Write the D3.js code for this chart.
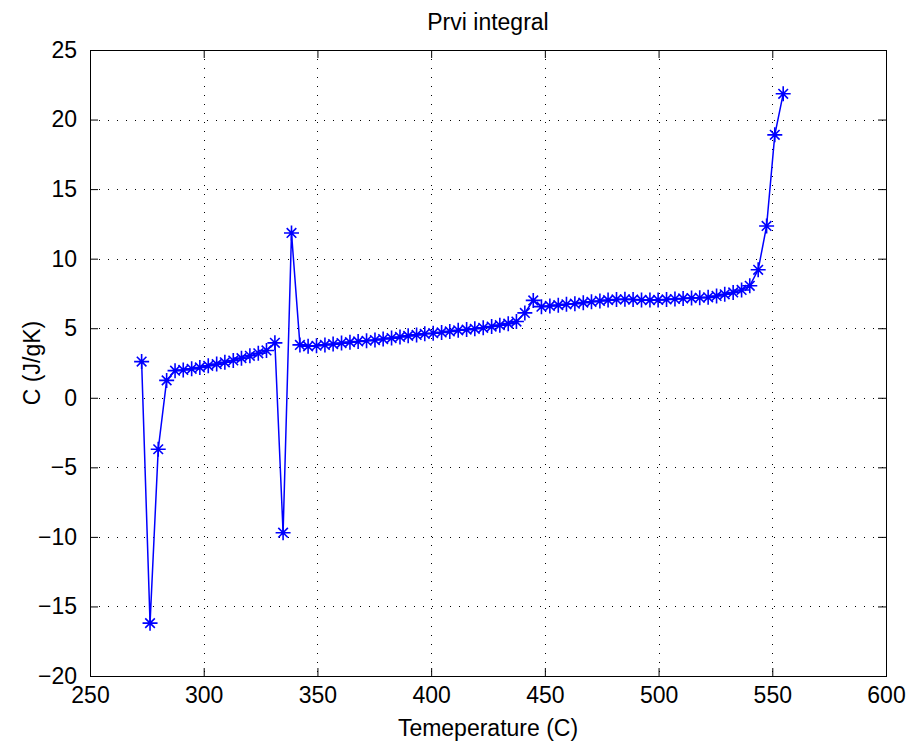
<!DOCTYPE html>
<html>
<head>
<meta charset="utf-8">
<script src="https://cdn.jsdelivr.net/npm/d3@7"></script>
<style>
  html, body { margin: 0; padding: 0; background: #ffffff; }
  svg { display: block; }
  text { font-family: "Liberation Sans", Arial, sans-serif; fill: #000; }
</style>
</head>
<body>
<svg id="chart" width="909" height="747"></svg>
<script>
// ---- Data ----
const temperature = [
  272.7, 276.4, 280.0, 283.7, 287.4, 291.0, 294.7, 298.3, 302.0, 305.7,
  309.3, 313.0, 316.6, 320.3, 324.0, 327.6, 331.3, 334.9, 338.6, 342.3,
  345.9, 349.6, 353.3, 356.9, 360.6, 364.3, 367.9, 371.6, 375.3, 378.9,
  382.6, 386.3, 389.9, 393.6, 397.2, 400.9, 404.6, 408.2, 411.9, 415.6,
  419.2, 422.9, 426.6, 430.2, 433.9, 437.5, 441.2, 444.9, 448.5, 452.2,
  455.9, 459.5, 463.2, 466.9, 470.5, 474.2, 477.8, 481.5, 485.2, 488.8,
  492.5, 496.2, 499.8, 503.5, 507.2, 510.8, 514.5, 518.1, 521.8, 525.5,
  529.1, 532.8, 536.5, 540.1, 543.8, 547.5, 551.1, 554.8
];
const heatCapacity = [
  2.6, -16.2, -3.7, 1.25, 1.95, 2.0, 2.08, 2.18, 2.3, 2.42,
  2.55, 2.68, 2.85, 3.02, 3.2, 3.4, 3.95, -9.7, 11.85, 3.8,
  3.7, 3.74, 3.8, 3.86, 3.93, 4.0, 4.05, 4.1, 4.15, 4.22,
  4.29, 4.37, 4.45, 4.52, 4.6, 4.64, 4.7, 4.77, 4.85, 4.9,
  4.96, 5.03, 5.12, 5.22, 5.33, 5.48, 6.1, 7.0, 6.55, 6.6,
  6.66, 6.72, 6.76, 6.84, 6.9, 6.96, 7.02, 7.07, 7.08, 7.06,
  7.03, 7.02, 7.03, 7.07, 7.1, 7.14, 7.17, 7.19, 7.22, 7.32,
  7.44, 7.57, 7.75, 8.05, 9.2, 12.35, 18.9, 21.85
];
const xTicks = [250, 300, 350, 400, 450, 500, 550, 600];
const yTicks = [-20, -15, -10, -5, 0, 5, 10, 15, 20, 25];
const titleText = "Prvi integral";
const xLabelText = "Temeperature (C)";
const yLabelText = "C (J/gK)";

// ---- Layout ----
const svg = d3.select("#chart");
const pL = 90, pR = 886, pT = 50, pB = 676;
const x = d3.scaleLinear().domain([250, 600]).range([pL, pR]);
const y = d3.scaleLinear().domain([-20, 25]).range([pB, pT]);
const fontSize = 23;
const tickLen = 8;

// grid
const grid = svg.append("g").attr("stroke", "#000").attr("stroke-width", 1)
  .attr("stroke-dasharray", "1,8").attr("fill", "none");
xTicks.slice(1, -1).forEach(t => {
  grid.append("line").attr("x1", Math.round(x(t)) + 0.5).attr("x2", Math.round(x(t)) + 0.5)
    .attr("y1", pT).attr("y2", pB);
});
yTicks.slice(1, -1).forEach(t => {
  grid.append("line").attr("y1", Math.round(y(t)) + 0.5).attr("y2", Math.round(y(t)) + 0.5)
    .attr("x1", pL).attr("x2", pR);
});

// axes
function styleAxis(g, showLabels) {
  g.select(".domain").remove();
  g.selectAll(".tick line").attr("stroke", "#000").attr("stroke-width", 1);
  g.selectAll(".tick text").attr("font-size", fontSize)
    .attr("font-family", "'Liberation Sans', Arial, sans-serif").attr("fill", "#000");
  if (!showLabels) g.selectAll(".tick text").remove();
}
const xAxisB = svg.append("g").attr("transform", `translate(0,${pB})`)
  .call(d3.axisBottom(x).tickValues(xTicks).tickSize(-tickLen).tickPadding(tickLen + 3).tickFormat(d3.format("d")));
styleAxis(xAxisB, true);
const xAxisT = svg.append("g").attr("transform", `translate(0,${pT})`)
  .call(d3.axisTop(x).tickValues(xTicks).tickSize(-tickLen));
styleAxis(xAxisT, false);
const yAxisL = svg.append("g").attr("transform", `translate(${pL},0)`)
  .call(d3.axisLeft(y).tickValues(yTicks).tickSize(-tickLen).tickPadding(tickLen + 5).tickFormat(d3.format("d")));
styleAxis(yAxisL, true);
const yAxisR = svg.append("g").attr("transform", `translate(${pR},0)`)
  .call(d3.axisRight(y).tickValues(yTicks).tickSize(-tickLen));
styleAxis(yAxisR, false);

// box
svg.append("rect").attr("x", pL + 0.5).attr("y", pT + 0.5)
  .attr("width", pR - pL).attr("height", pB - pT)
  .attr("fill", "none").attr("stroke", "#000").attr("stroke-width", 1);

// data line
const pts = temperature.map((t, i) => [t, heatCapacity[i]]);
const line = d3.line().x(d => x(d[0])).y(d => y(d[1]));
svg.append("path").datum(pts).attr("d", line)
  .attr("fill", "none").attr("stroke", "#0000ff").attr("stroke-width", 1.5);

// asterisk markers
const r1 = 7.5, r2 = 4.8;
const starPath = `M${-r1},0H${r1}M0,${-r1}V${r1}M${-r2},${-r2}L${r2},${r2}M${-r2},${r2}L${r2},${-r2}`;
svg.append("g").selectAll("path.m").data(pts).join("path")
  .attr("class", "m")
  .attr("transform", d => `translate(${x(d[0])},${y(d[1])})`)
  .attr("d", starPath)
  .attr("fill", "none").attr("stroke", "#0000ff").attr("stroke-width", 1.6);

// labels
svg.append("text").attr("x", (pL + pR) / 2).attr("y", 30)
  .attr("text-anchor", "middle").attr("font-size", fontSize).text(titleText);
svg.append("text").attr("x", (pL + pR) / 2).attr("y", 736)
  .attr("text-anchor", "middle").attr("font-size", fontSize).text(xLabelText);
svg.append("text").attr("transform", `translate(40,${(pT + pB) / 2}) rotate(-90)`)
  .attr("text-anchor", "middle").attr("font-size", fontSize).text(yLabelText);
</script>
</body>
</html>
